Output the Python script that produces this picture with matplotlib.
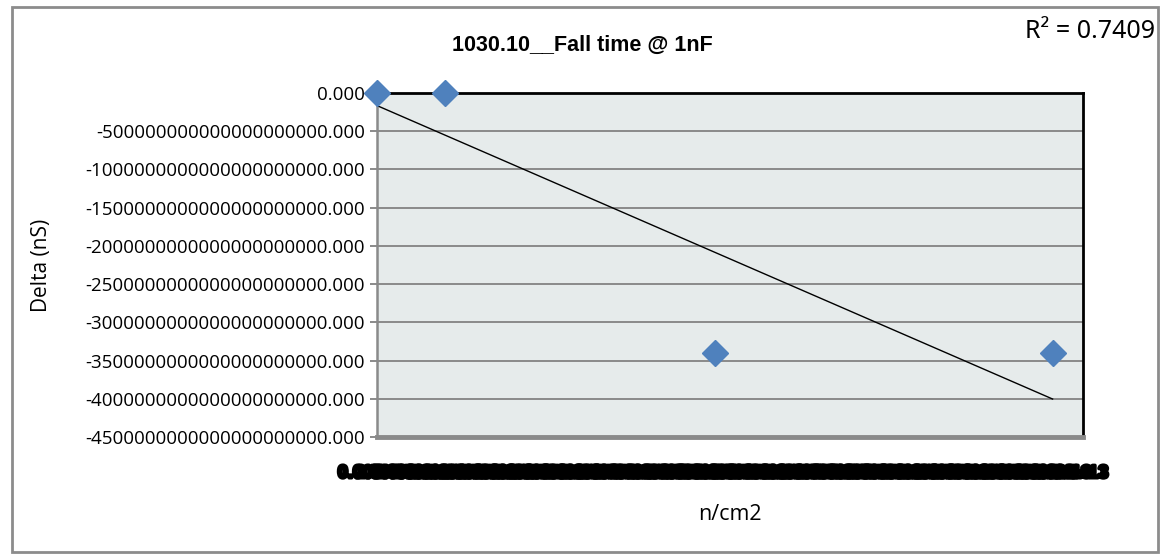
import numpy as np
import matplotlib
matplotlib.use("Agg")
import matplotlib.pyplot as plt
import matplotlib.patheffects as pe
from matplotlib.patches import Rectangle
from matplotlib.ticker import FuncFormatter

# data
fluence = [0.0, 1.0e12, 5.0e12, 1.0e13]          # n/cm2
delta = [0.0, 0.0, -3.4e21, -3.4e21]             # nS
r2_text = "R\u00b2 = 0.7409"
title = "1030.10__Fall time @ 1nF"
y_ticks = np.arange(0, -4.51e21, -5e20)
x_ticks = np.arange(0, 1.046e13, 2.5e11)

plt.rcParams['font.family'] = ['Open Sans', 'DejaVu Sans']

W, H = 1162, 558
fig = plt.figure(figsize=(W / 100, H / 100), dpi=100)

# outer chart border
fig.patches.append(Rectangle((12 / W, 1 - 552 / H), (1158 - 12) / W, (552 - 7) / H,
                             transform=fig.transFigure, fill=False,
                             edgecolor='#8c8c8c', linewidth=2))

ax = fig.add_axes([377 / W, 1 - 437 / H, (1083 - 377) / W, (437 - 93) / H])
ax.set_facecolor('#e6ebeb')

ax.set_ylim(-4.5e21, 0)
ax.set_xlim(0, 1.045e13)
ax.set_yticks(y_ticks)
ax.yaxis.set_major_formatter(FuncFormatter(lambda v, p: f'{v:.3f}'))
ax.grid(axis='y', color='#8a8a8a', linewidth=1.4)
ax.set_axisbelow(True)

# the category labels are crammed into one black band, as in the original
ax.set_xticks(x_ticks)
ax.set_xticklabels([f'{v:.2E}' for v in x_ticks], fontweight='bold',
                   fontsize=13, family=['Liberation Sans', 'DejaVu Sans'])
for t in ax.get_xticklabels():
    t.set_path_effects([pe.withStroke(linewidth=2.5, foreground='black')])
ax.tick_params(axis='x', length=0, pad=20)
ax.tick_params(axis='y', labelsize=13.5, direction='out', length=5, color='#8a8a8a', width=1.4)

for s in ['top', 'right']:
    ax.spines[s].set_color('black')
    ax.spines[s].set_linewidth(2)
ax.spines['left'].set_color('#8a8a8a')
ax.spines['left'].set_linewidth(1.8)
ax.spines['bottom'].set_color('#8a8a8a')
ax.spines['bottom'].set_linewidth(3.5)

# linear trendline
k, b = np.polyfit(fluence, delta, 1)
xs = np.array([min(fluence), max(fluence)])
ax.plot(xs, k * xs + b, color='black', linewidth=1, zorder=3)

ax.plot(fluence, delta, linestyle='none', marker='D', markersize=13,
        color='#4f81bd', clip_on=False, zorder=5)

ax.set_ylabel('Delta (nS)', fontsize=15, labelpad=24)
ax.set_xlabel('n/cm2', fontsize=15.5, labelpad=16)

fig.text(582 / W, 1 - 45 / H, title, ha='center', va='center',
         fontsize=15.5, fontweight='bold', family=['Liberation Sans', 'DejaVu Sans'])
fig.text(1155 / W, 1 - 31 / H, r2_text, ha='right', va='center', fontsize=18,
         family=['Noto Sans', 'DejaVu Sans'])

fig.savefig('out.png', dpi=100)
